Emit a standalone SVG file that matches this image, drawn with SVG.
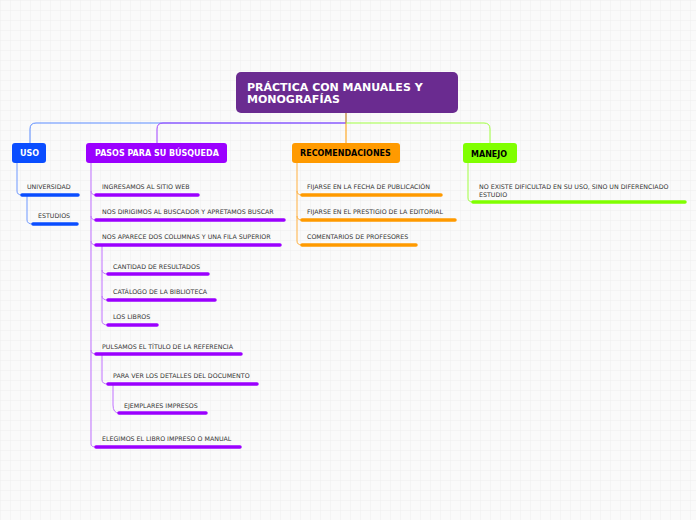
<svg xmlns="http://www.w3.org/2000/svg" width="696" height="520" viewBox="0 0 696 520">
<defs>
<pattern id="g" width="10" height="10" patternUnits="userSpaceOnUse"><rect width="10" height="10" fill="#fafafa"/><path d="M0 0H10M0 0V10" stroke="#efefef" stroke-width="1"/></pattern>
<style>
text{font-family:"DejaVu Sans","Liberation Sans",sans-serif}
.t{font-size:6.3px;fill:#333}
.h{font-size:8px;font-weight:bold}
.c{fill:none;stroke-width:1}
.u{fill:none;stroke-width:3.5;stroke-linecap:round}
.b{stroke:#0a4dff}.p{stroke:#9b00ff}.o{stroke:#ff9a00}.gr{stroke:#80ff00}
</style>
</defs>
<rect width="696" height="520" fill="url(#g)"/>
<g id="connectors">
<path class="c" stroke="#5a8cff" d="M346 113V123H36Q30 123 30 129V143"/>
<path class="c" stroke="#a040ff" d="M346 123H163Q157 123 157 129V143"/>
<path class="c" stroke="#ff9a00" d="M346 113V143"/>
<path class="c" stroke="#a0ff40" d="M346 123H484Q490 123 490 129V143"/>
<path class="c" stroke="#6f98ff" d="M17 163V191Q17 195 22 195"/>
<path class="c" stroke="#6f98ff" d="M27 195V220Q27 224 33 224"/>
<path class="c" stroke="#c070ff" d="M91 163V444Q91 447 96 447M91 191Q91 195 96 195M91 216Q91 220 96 220M91 241Q91 245 96 245M91 350Q91 354 96 354"/>
<path class="c" stroke="#c070ff" d="M102 245V321Q102 325 108 325M102 270Q102 274 108 274M102 296Q102 300 108 300"/>
<path class="c" stroke="#c070ff" d="M102 354V380Q102 384 108 384"/>
<path class="c" stroke="#c070ff" d="M113 384V405Q113 413 119 413"/>
<path class="c" stroke="#ffb040" d="M297 163V241Q297 245 302 245M297 191Q297 195 302 195M297 216Q297 220 302 220"/>
<path class="c" stroke="#a0ff40" d="M468 163V198Q468 202 473 202"/>
</g>
<g id="root"><rect x="236" y="72" width="222" height="41" rx="5" fill="#6a2b90"/><text x="247" y="91" font-size="11" font-weight="bold" fill="#fff">PRÁCTICA CON MANUALES Y</text><text x="247" y="103" font-size="11" font-weight="bold" fill="#fff">MONOGRAFÍAS</text></g>
<g id="uso"><rect x="12" y="143" width="34" height="20" rx="3" fill="#0a4dff"/><text class="h" x="20" y="156" fill="#fff">USO</text></g>
<g id="pasos"><rect x="86" y="143" width="141" height="20" rx="3" fill="#9b00ff"/><text class="h" x="95" y="156" fill="#fff">PASOS PARA SU BÚSQUEDA</text></g>
<g id="rec"><rect x="292" y="143" width="108" height="20" rx="3" fill="#ff9a00"/><text class="h" x="300" y="156" fill="#000">RECOMENDACIONES</text></g>
<g id="manejo"><rect x="463" y="143" width="54" height="20" rx="3" fill="#80ff00"/><text class="h" x="471" y="157" fill="#000">MANEJO</text></g>
<g id="universidad"><text class="t" x="27" y="189">UNIVERSIDAD</text><path class="u b" d="M22 195H78"/></g>
<g id="estudios"><text class="t" x="38" y="218">ESTUDIOS</text><path class="u b" d="M33 224H77"/></g>
<g id="p1"><text class="t" x="102" y="189">INGRESAMOS AL SITIO WEB</text><path class="u p" d="M96 195H198"/></g>
<g id="p2"><text class="t" x="102" y="214">NOS DIRIGIMOS AL BUSCADOR Y APRETAMOS BUSCAR</text><path class="u p" d="M96 220H284"/></g>
<g id="p3"><text class="t" x="102" y="239">NOS APARECE DOS COLUMNAS Y UNA FILA SUPERIOR</text><path class="u p" d="M96 245H280"/></g>
<g id="p31"><text class="t" x="113" y="269">CANTIDAD DE RESULTADOS</text><path class="u p" d="M108 274H208"/></g>
<g id="p32"><text class="t" x="113" y="294">CATÁLOGO DE LA BIBLIOTECA</text><path class="u p" d="M108 300H215"/></g>
<g id="p33"><text class="t" x="113" y="319">LOS LIBROS</text><path class="u p" d="M108 325H157"/></g>
<g id="p4"><text class="t" x="102" y="349">PULSAMOS EL TÍTULO DE LA REFERENCIA</text><path class="u p" d="M96 354H241"/></g>
<g id="p41"><text class="t" x="113" y="378">PARA VER LOS DETALLES DEL DOCUMENTO</text><path class="u p" d="M108 384H257"/></g>
<g id="p411"><text class="t" x="124" y="408">EJEMPLARES IMPRESOS</text><path class="u p" d="M119 413H206"/></g>
<g id="p5"><text class="t" x="102" y="441">ELEGIMOS EL LIBRO IMPRESO O MANUAL</text><path class="u p" d="M96 447H240"/></g>
<g id="r1"><text class="t" x="307" y="189">FIJARSE EN LA FECHA DE PUBLICACIÓN</text><path class="u o" d="M302 195H441"/></g>
<g id="r2"><text class="t" x="307" y="214">FIJARSE EN EL PRESTIGIO DE LA EDITORIAL</text><path class="u o" d="M302 220H455"/></g>
<g id="r3"><text class="t" x="307" y="239">COMENTARIOS DE PROFESORES</text><path class="u o" d="M302 245H416"/></g>
<g id="m1"><text class="t" x="479" y="189">NO EXISTE DIFICULTAD EN SU USO, SINO UN DIFERENCIADO</text><text class="t" x="479" y="197">ESTUDIO</text><path class="u gr" d="M473 202H685"/></g>
</svg>
